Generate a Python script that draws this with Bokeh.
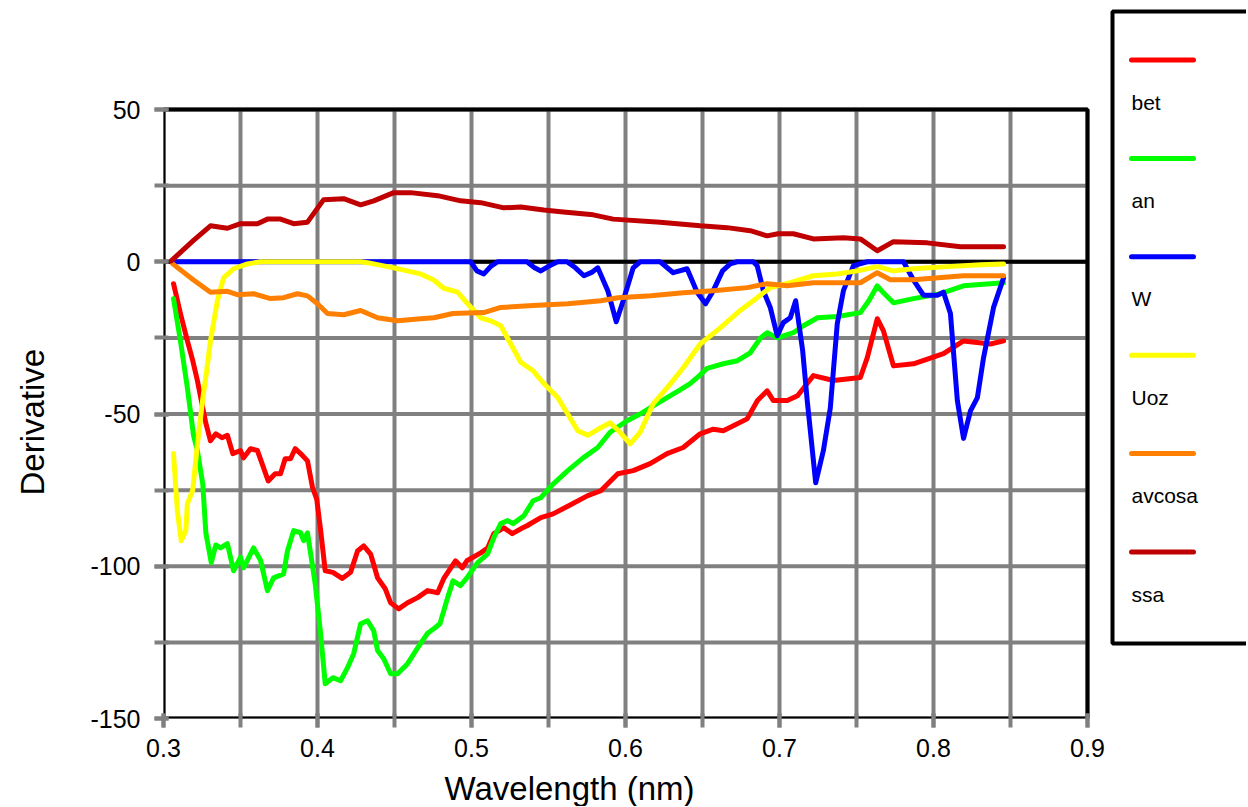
from bokeh.plotting import figure
from bokeh.models import Range1d, FixedTicker, Title
from bokeh.embed import file_html
from bokeh.resources import INLINE
from bokeh.core.properties import value

FONT = "Liberation Sans"

# ---------------- data ----------------
bet_x = [0.3065, 0.311, 0.3155, 0.319, 0.322, 0.3255, 0.3275, 0.3305, 0.334, 0.338, 0.3415, 0.345,
         0.350, 0.352, 0.3565, 0.361, 0.365, 0.368, 0.3725, 0.376, 0.379, 0.3825, 0.3855, 0.389,
         0.3935, 0.3967, 0.3995, 0.402, 0.405, 0.410, 0.416, 0.4215, 0.426, 0.430, 0.4345, 0.439,
         0.444, 0.4475, 0.4527, 0.4585, 0.465, 0.4715, 0.478, 0.482, 0.4896, 0.494, 0.497, 0.506,
         0.5105, 0.5145, 0.521, 0.5265, 0.532, 0.536, 0.545, 0.553, 0.5625, 0.5755, 0.584, 0.595,
         0.605, 0.616, 0.627, 0.6375, 0.6485, 0.657, 0.6635, 0.679, 0.6857, 0.692, 0.696, 0.705,
         0.7117, 0.718, 0.722, 0.735, 0.7525, 0.757, 0.7635, 0.7675, 0.774, 0.787, 0.8065, 0.8195,
         0.837, 0.8455]
bet_y = [-7.2, -17, -26, -32.5, -39, -48, -53, -58.8, -56.5, -57.8, -57, -63,
         -62, -64.4, -61.4, -62, -67.7, -72, -69.6, -69.6, -64.7, -64.7, -61.4, -63,
         -65.4, -74, -78, -88, -101.5, -102, -104, -102, -95, -93.3, -96, -103.8,
         -107.4, -112, -114, -112, -110.3, -108, -108.7, -104, -98.2, -100.5, -98.2, -95.6,
         -94, -89.3, -87.4, -89.3, -87.7, -86.7, -84, -82.8, -80.3, -76.8, -75.2, -69.6,
         -68.6, -66.3, -63, -61, -56.5, -55, -55.5, -51.6, -45.6, -42.4, -45.6, -45.6,
         -44, -40, -37.4, -39, -38, -31.5, -18.7, -22.7, -34.2, -33.5, -30.2, -26,
         -27, -26]

an_x = [0.3065, 0.311, 0.3155, 0.3195, 0.322, 0.3255, 0.3275, 0.331, 0.334, 0.337, 0.3415, 0.3455,
        0.350, 0.352, 0.3585, 0.363, 0.3675, 0.3715, 0.378, 0.3805, 0.3845, 0.389, 0.391, 0.3935,
        0.3985, 0.402, 0.405, 0.410, 0.415, 0.4195, 0.4235, 0.428, 0.4325, 0.4365, 0.439, 0.443,
        0.4475, 0.452, 0.4585, 0.465, 0.4715, 0.4755, 0.4795, 0.4845, 0.488, 0.4928, 0.497, 0.504,
        0.5105, 0.5145, 0.519, 0.5235, 0.527, 0.534, 0.540, 0.545, 0.553, 0.5625, 0.5725, 0.582,
        0.590, 0.601, 0.6095, 0.618, 0.627, 0.6357, 0.642, 0.6467, 0.653, 0.6635, 0.6727, 0.681,
        0.6877, 0.692, 0.6987, 0.709, 0.7155, 0.7247, 0.7377, 0.7525, 0.758, 0.7635, 0.7675, 0.774,
        0.787, 0.8045, 0.8195, 0.8455]
an_y = [-12.1, -26, -41.4, -57, -62, -73, -89, -98.8, -93, -94, -92.6, -101.5,
        -97, -100.5, -94, -98, -108, -103.8, -102.5, -95, -88.3, -89, -91.6, -89,
        -105.7, -122, -138.6, -136.6, -137.6, -133.3, -128.7, -118.9, -117.9, -121.2, -127.7, -130.4,
        -135.3, -135.3, -132, -126.8, -122, -120.5, -118.9, -110.3, -104.8, -106.4, -103.8, -98.8,
        -95.9, -90.6, -86, -85, -86, -83.4, -78.5, -77.5, -73, -68.6, -64.4, -61,
        -56, -52.2, -50, -47.3, -44.6, -42, -40, -38, -35, -33.5, -32.5, -29.9,
        -25, -23.3, -25, -23.3, -21, -18.4, -18, -16.7, -12.8, -7.9, -10.2, -13.5,
        -12.1, -10.5, -7.9, -6.9]

w_x = [0.305, 0.4995, 0.5035, 0.508, 0.5125, 0.517, 0.536, 0.541, 0.545, 0.550, 0.556, 0.562,
       0.5675, 0.573, 0.578, 0.582, 0.5885, 0.594, 0.5985, 0.605, 0.6095, 0.6225, 0.631, 0.640,
       0.6465, 0.652, 0.657, 0.663, 0.668, 0.6725, 0.683, 0.6855, 0.6895, 0.694, 0.6985, 0.7025,
       0.707, 0.7105, 0.715, 0.718, 0.7235, 0.7285, 0.733, 0.7375, 0.7415, 0.748, 0.757, 0.7805,
       0.787, 0.7935, 0.8025, 0.8065, 0.811, 0.8155, 0.8195, 0.824, 0.8285, 0.8325, 0.839, 0.8455]
w_y = [0, 0, -3, -4, -1.5, 0, 0, -2, -3, -1.5, 0, 0,
       -2, -4.6, -3.5, -2, -9.5, -19.7, -12.8, -2, 0, 0, -3.6, -2.3,
       -10, -13.8, -9.5, -3, -0.7, 0, 0, -1.3, -9.5, -15, -24.3, -20,
       -18.4, -12.8, -29, -45.6, -72.6, -62, -48, -20.4, -9.5, -1.3, 0, 0,
       -6, -11, -11, -10, -17, -45.6, -58, -49, -44.6, -31.5, -15, -5.3]

uoz_x = [0.3065, 0.309, 0.3115, 0.3145, 0.3155, 0.319, 0.322, 0.3255, 0.328, 0.3305, 0.335, 0.339,
         0.3455, 0.3545, 0.363, 0.428, 0.4325, 0.4495, 0.467, 0.4755, 0.482, 0.491, 0.4975, 0.506,
         0.5125, 0.519, 0.5255, 0.532, 0.540, 0.547, 0.556, 0.5625, 0.569, 0.5755, 0.584, 0.590,
         0.5965, 0.603, 0.6095, 0.618, 0.627, 0.6375, 0.6485, 0.6615, 0.6745, 0.6855, 0.694, 0.707,
         0.722, 0.7375, 0.7505, 0.7635, 0.774, 0.787, 0.809, 0.8305, 0.8455]
uoz_y = [-63, -81.8, -91.6, -88.3, -79.5, -75, -60, -45, -36, -26, -12.8, -5.3,
         -2.3, -0.7, 0, 0, -0.3, -2, -4, -6, -8.7, -10, -13.8, -18.4,
         -19.4, -21, -27, -33, -35.8, -40, -44.6, -50, -55.5, -57, -54.5, -52.9,
         -56, -59.8, -56, -46.6, -41.4, -34.8, -27, -21.7, -16, -11.8, -8.5, -6.9,
         -4.6, -4, -3, -1.6, -3, -2.3, -1.6, -1, -0.7]

avcosa_x = [0.306, 0.3195, 0.3305, 0.3415, 0.348, 0.3585, 0.3695, 0.378, 0.387, 0.3935, 0.400, 0.4065,
            0.417, 0.428, 0.439, 0.452, 0.467, 0.4755, 0.488, 0.508, 0.519, 0.540, 0.5625, 0.584,
            0.595, 0.6165, 0.6375, 0.657, 0.679, 0.692, 0.705, 0.722, 0.7525, 0.7635, 0.772, 0.787,
            0.8195, 0.8455]
avcosa_y = [-0.7, -6, -10, -9.7, -10.8, -10.5, -12.1, -11.8, -10.5, -11.2, -13.8, -17,
            -17.4, -16, -18.4, -19.4, -18.7, -18.4, -17, -16.7, -15, -14.4, -13.8, -12.8,
            -11.8, -11.2, -10.2, -9.5, -8.5, -7.2, -7.9, -6.9, -6.9, -3.6, -5.9, -5.9,
            -4.6, -4.6]

ssa_x = [0.305, 0.3195, 0.3305, 0.3415, 0.350, 0.361, 0.3675, 0.376, 0.3845, 0.3935, 0.404, 0.417,
         0.428, 0.4365, 0.4495, 0.4605, 0.478, 0.493, 0.506, 0.521, 0.532, 0.547, 0.558, 0.579,
         0.592, 0.6225, 0.6485, 0.666, 0.681, 0.692, 0.699, 0.709, 0.722, 0.7415, 0.7525, 0.7635,
         0.774, 0.796, 0.8175, 0.8455]
ssa_y = [0.3, 7, 11.8, 11, 12.5, 12.5, 14, 14, 12.5, 13, 20.4, 20.7,
         18.7, 20, 22.7, 22.7, 21.7, 20, 19.4, 17.7, 18, 17, 16.4, 15.4,
         14, 13, 11.8, 11.2, 10.2, 8.5, 9.2, 9.2, 7.5, 7.9, 7.5, 3.6,
         6.6, 6.2, 4.9, 4.9]

series_names = ["bet", "an", "W", "Uoz", "avcosa", "ssa"]
series_colors = ["#ff0000", "#00ff00", "#0000ff", "#ffff00", "#ff8000", "#c00000"]
series_x = [bet_x, an_x, w_x, uoz_x, avcosa_x, ssa_x]
series_y = [bet_y, an_y, w_y, uoz_y, avcosa_y, ssa_y]

x_major = [0.3, 0.4, 0.5, 0.6, 0.7, 0.8, 0.9]
x_minor = [0.3, 0.35, 0.4, 0.45, 0.5, 0.55, 0.6, 0.65, 0.7, 0.75, 0.8, 0.85, 0.9]
y_major = [-150, -100, -50, 0, 50]
y_minor = [-150, -125, -100, -75, -50, -25, 0, 25, 50]

x_title = "Wavelength (nm)"
y_title = "Derivative"

# ---------------- layout (pixels) ----------------
GREY = "#808080"
W, H = 1246, 806
BOX_L, BOX_R, BOX_T, BOX_B = 163, 1087, 109, 718      # plot box on the canvas
FRAME_T = 6                                           # frame reaches up to the legend
xmin, xmax = x_major[0], x_major[-1]
ymin, ymax = y_major[0], y_major[-1]
kx = (BOX_R - BOX_L) / (xmax - xmin)
ky = (BOX_B - BOX_T) / (ymax - ymin)


def dx(px):
    return xmin + (px - BOX_L) / kx


def dy(py):
    return ymin + (BOX_B - py) / ky


p = figure(width=W, height=H, output_backend="svg", toolbar_location=None,
           x_range=Range1d(xmin, dx(W)), y_range=Range1d(ymin, dy(FRAME_T)),
           min_border_left=BOX_L, min_border_right=0, min_border_top=FRAME_T,
           min_border_bottom=H - BOX_B,
           background_fill_color="white", border_fill_color="white")
p.outline_line_color = None
p.grid.grid_line_color = None

p.xaxis.ticker = FixedTicker(ticks=x_major, minor_ticks=x_minor)
p.yaxis.ticker = FixedTicker(ticks=y_major, minor_ticks=y_minor)
p.xaxis.bounds = (xmin, xmax)
p.yaxis.bounds = (ymin, ymax)
p.xaxis.major_label_overrides = {t: f"{t:g}" for t in x_major}
p.yaxis.major_label_overrides = {t: f"{t:g}" for t in y_major}

for ax in (p.xaxis[0], p.yaxis[0]):
    ax.axis_line_color = None
    ax.major_tick_line_color = GREY
    ax.minor_tick_line_color = GREY
    ax.major_tick_line_width = 4
    ax.minor_tick_line_width = 4
    ax.major_tick_out = 9
    ax.major_tick_in = 5
    ax.minor_tick_out = 9
    ax.minor_tick_in = 5
    ax.major_label_text_font = FONT
    ax.major_label_text_font_size = "25px"
    ax.major_label_text_color = "black"

p.xaxis.major_label_standoff = 11
p.yaxis.major_label_standoff = 14

title_style = dict(text_font=FONT, text_font_style="normal", text_color="black")
# blank spacers push the axis titles outwards, as in the reference
p.add_layout(Title(text=" ", standoff=0, text_font_size="5px", **title_style), "below")
p.add_layout(Title(text=x_title, align="left", offset=444 - BOX_L, standoff=0,
                   text_font_size="33px", **title_style), "below")
p.add_layout(Title(text=" ", standoff=0, text_font_size="31px", **title_style), "left")
p.add_layout(Title(text=y_title, align="left", offset=BOX_B - 495, standoff=0,
                   text_font_size="33px", **title_style), "left")

# grid drawn inside the plot box only
p.segment(x0=x_minor, y0=[ymin] * len(x_minor), x1=x_minor, y1=[ymax] * len(x_minor),
          line_color=GREY, line_width=4)
p.segment(x0=[xmin] * len(y_minor), y0=y_minor, x1=[xmax] * len(y_minor), y1=y_minor,
          line_color=GREY, line_width=4)
p.quad(left=[xmin], right=[xmax], bottom=[ymin], top=[ymax], fill_color=None,
       line_color="black", line_width=4)
p.segment(x0=[xmin], y0=[0], x1=[xmax], y1=[0], line_color="black", line_width=4)

for xs, ys, c in zip(series_x, series_y, series_colors):
    p.line(xs, ys, line_color=c, line_width=5, line_join="round", line_cap="round")

# ---------------- legend panel ----------------
p.quad(left=[dx(1112)], right=[dx(1400)], top=[dy(11)], bottom=[dy(643)],
       fill_color="white", line_color="black", line_width=4)
step = 98.4
for i, (name, c) in enumerate(zip(series_names, series_colors)):
    yl = 59.5 + i * step
    p.segment(x0=[dx(1131)], y0=[dy(yl)], x1=[dx(1193)], y1=[dy(yl)],
              line_color=c, line_width=5, line_cap="round")
    p.text(x=[dx(1131)], y=[dy(yl + 42)], text=[name], text_font=value(FONT),
           text_font_size="21px", text_align="left", text_baseline="middle",
           text_color="black")

open("out.html", "w").write(file_html(p, INLINE))
